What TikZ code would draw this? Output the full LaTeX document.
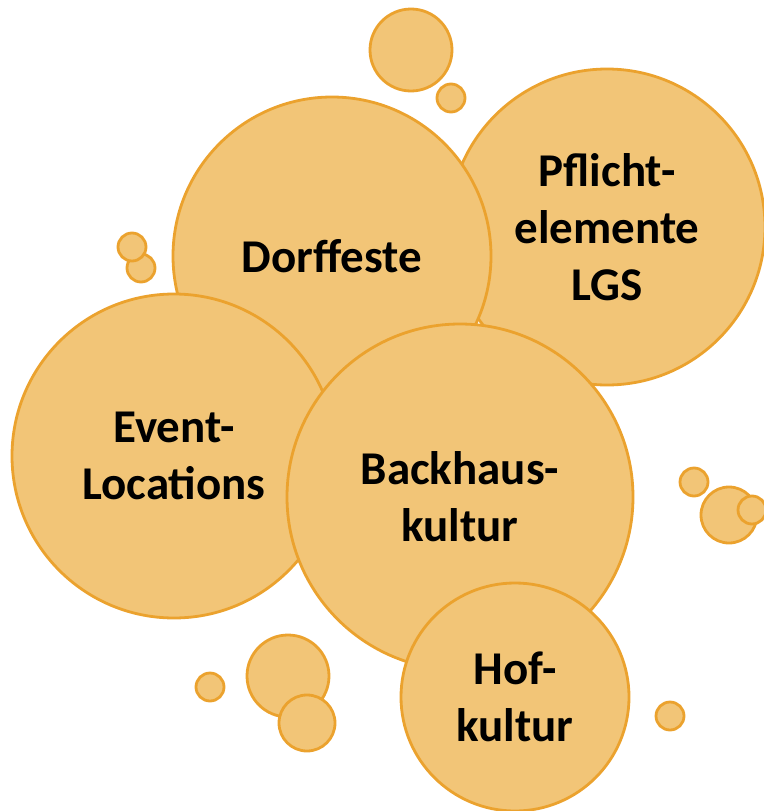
\documentclass[tikz,border=0pt]{standalone}
\usepackage{fontspec}
\setmainfont{Carlito}
\usepackage{xcolor}
\definecolor{bubblefill}{HTML}{F2C577}
\definecolor{bubbleline}{HTML}{EBA22E}

\begin{document}
\begin{tikzpicture}[
			x=1pt,y=-1pt,
			bubble/.style={
				circle,
				draw=bubbleline,
				fill=bubblefill,
				line width=2.8pt,
				inner sep=0pt,
				align=center,
				font=\fontsize{47}{57}\selectfont\bfseries
			},
			dot/.style={bubble,minimum size=#1}
			]
			\useasboundingbox (0,0) rectangle (763,811);
			
			% Small bubbles, top
			\node[dot=82] (d1) at (411,50) {};
			\node[dot=28] (d2) at (451,98) {};
			
			% Large bubbles, back to front
			\node[bubble,minimum size=316] (pfl) at (607,227) {Pflicht-\\elemente\\LGS};
			\node[bubble,minimum size=318] (dorf) at (332,256) {Dorffeste};
			
			% Small bubbles, left
			\node[dot=28] (d3) at (141,268) {};
			\node[dot=28] (d4) at (132,247) {};
			
			\node[bubble,minimum size=324] (event) at (174,456) {Event-\\Locations};
			\node[bubble,minimum size=346] (back) at (460,497) {Backhaus-\\kultur};
			\node[bubble,minimum size=228] (hof) at (515,697) {Hof-\\kultur};
			
			% Small bubbles, right
			\node[dot=28] (d5) at (694,482) {};
			\node[dot=56] (d6) at (729,515) {};
			\node[dot=28] (d7) at (752,510) {};
			
			% Small bubbles, bottom
			\node[dot=82] (d8) at (288,676) {};
			\node[dot=56] (d9) at (307,723) {};
			\node[dot=28] (d10) at (210,687) {};
			\node[dot=28] (d11) at (670,716) {};
			
		\end{tikzpicture}
\end{document}
